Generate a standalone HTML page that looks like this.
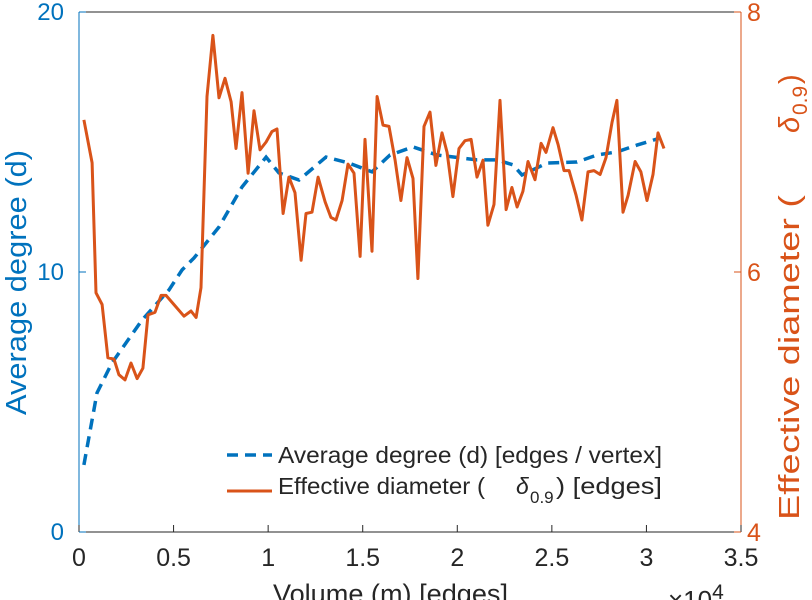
<!DOCTYPE html>
<html><head><meta charset="utf-8"><style>
html,body{margin:0;padding:0;background:#fff;}
svg{display:block;font-family:"Liberation Sans",sans-serif;}
</style></head><body>
<svg id="chart" width="812" height="600" viewBox="0 0 812 600"></svg>
<script>
const xTicks=[0,0.5,1,1.5,2,2.5,3,3.5];
const xTickLabels=["0","0.5","1","1.5","2","2.5","3","3.5"];
const leftTicks=[0,10,20];
const rightTicks=[4,6,8];
const degX=[0.026,0.095,0.174,0.333,0.476,0.545,0.608,0.740,0.862,0.989,1.057,1.163,1.306,1.428,1.549,1.644,1.766,1.893,2.104,2.210,2.295,2.342,2.474,2.633,2.739,2.844,2.950,3.072];
const degY=[2.58,5.35,6.5,8.15,9.31,10.08,10.54,11.73,13.27,14.42,13.81,13.54,14.42,14.19,13.85,14.5,14.81,14.5,14.31,14.31,14.12,13.73,14.19,14.23,14.5,14.62,14.88,15.15];
const diaX=[0.026,0.069,0.090,0.122,0.153,0.185,0.211,0.243,0.275,0.307,0.338,0.365,0.402,0.434,0.460,0.502,0.555,0.592,0.619,0.645,0.677,0.708,0.740,0.772,0.804,0.830,0.862,0.894,0.925,0.957,0.989,1.020,1.047,1.079,1.110,1.142,1.174,1.200,1.232,1.264,1.301,1.332,1.359,1.391,1.422,1.454,1.486,1.512,1.549,1.576,1.607,1.639,1.671,1.702,1.734,1.766,1.792,1.824,1.856,1.887,1.919,1.946,1.977,2.009,2.041,2.073,2.104,2.136,2.162,2.194,2.226,2.258,2.289,2.316,2.347,2.374,2.411,2.443,2.469,2.506,2.533,2.564,2.591,2.628,2.659,2.691,2.723,2.755,2.786,2.818,2.844,2.876,2.903,2.940,2.971,3.003,3.035,3.061,3.093];
const diaY=[7.17,6.84,5.84,5.75,5.34,5.33,5.21,5.17,5.30,5.18,5.26,5.67,5.69,5.82,5.82,5.75,5.66,5.70,5.65,5.88,7.35,7.82,7.34,7.49,7.31,6.95,7.38,6.76,7.24,6.94,7.00,7.08,7.10,6.45,6.73,6.61,6.09,6.45,6.46,6.73,6.54,6.42,6.40,6.55,6.83,6.76,6.12,7.02,6.16,7.35,7.13,7.12,6.86,6.55,6.88,6.72,5.95,7.12,7.23,6.82,7.07,6.92,6.58,6.95,7.01,7.02,6.73,6.86,6.36,6.52,7.32,6.48,6.65,6.50,6.62,6.85,6.71,6.99,6.92,7.11,6.98,6.78,6.78,6.59,6.40,6.77,6.78,6.75,6.88,7.15,7.32,6.46,6.59,6.85,6.77,6.55,6.75,7.07,6.95];

const L=79,R=741,T=12,B=532;
const xs=v=>L+v/3.5*(R-L);
const yl=v=>B-v/20*(B-T);
const yr=v=>B-(v-4)/4*(B-T);
const svg=document.getElementById('chart');
const NS='http://www.w3.org/2000/svg';
function mk(tag,attrs,parent){const e=document.createElementNS(NS,tag);for(const k in attrs)e.setAttribute(k,attrs[k]);(parent||svg).appendChild(e);return e;}

let e=mk('line',{x1:L,y1:T,x2:R,y2:T,stroke:'#262626','stroke-width':1});


e=mk('line',{x1:L,y1:B,x2:R,y2:B,stroke:'#262626','stroke-width':1});


e=mk('line',{x1:L,y1:T,x2:L,y2:B,stroke:'#0072BD','stroke-width':1});


e=mk('line',{x1:R,y1:T,x2:R,y2:B,stroke:'#D95319','stroke-width':1});



xTicks.forEach((t,i)=>{
  const x=xs(t);
  mk('line',{x1:x,y1:B,x2:x,y2:B-7,stroke:'#262626'});
  const tx=mk('text',{x:x,y:566,'text-anchor':'middle','font-size':25,fill:'#262626'});
  tx.textContent=xTickLabels[i];
  
  
});
leftTicks.forEach(t=>{
  const y=yl(t);
  mk('line',{x1:L,y1:y,x2:L+7,y2:y,stroke:'#0072BD'});
  const tx=mk('text',{x:L-15,y:y+8,'text-anchor':'end','font-size':24,fill:'#0072BD'});
  tx.textContent=String(t);
  
  
});
rightTicks.forEach(t=>{
  const y=yr(t);
  mk('line',{x1:R,y1:y,x2:R-7,y2:y,stroke:'#D95319'});
  const tx=mk('text',{x:R+6,y:y+9,'text-anchor':'start','font-size':25,fill:'#D95319'});
  tx.textContent=String(t);
  
  
});

let d=degX.map((v,i)=>(i?'L':'M')+xs(v).toFixed(1)+','+yl(degY[i]).toFixed(1)).join('');
e=mk('path',{d:d,fill:'none',stroke:'#0072BD','stroke-width':3.5,'stroke-dasharray':'11,7'});


d=diaX.map((v,i)=>(i?'L':'M')+xs(v).toFixed(1)+','+yr(diaY[i]).toFixed(1)).join('');
e=mk('path',{d:d,fill:'none',stroke:'#D95319','stroke-width':3,'stroke-linejoin':'round'});



e=mk('text',{x:273,y:603,'font-size':27,fill:'#262626',textLength:235,lengthAdjust:'spacingAndGlyphs'});
e.textContent='Volume (m) [edges]';


e=mk('text',{x:668,y:609,'font-size':26,fill:'#262626'});
e.innerHTML='×10<tspan dy="-10" font-size="21">4</tspan>';


e=mk('text',{x:0,y:0,'font-size':29,fill:'#0072BD',transform:'translate(26,415) rotate(-90)',textLength:265,lengthAdjust:'spacingAndGlyphs'});
e.textContent='Average degree (d)';


const rt=mk('g',{transform:'translate(799,0) rotate(-90)',fill:'#D95319','font-size':29});


e=mk('text',{x:-520,y:0,textLength:325,lengthAdjust:'spacingAndGlyphs'},rt);
e.textContent='Effective diameter (';
e=mk('text',{x:-133,y:0,'font-style':'italic'},rt);
e.textContent='δ';
e=mk('text',{x:-115,y:8,'font-size':21},rt);
e.textContent='0.9';
e=mk('text',{x:-84,y:0},rt);
e.textContent=')';

const lg=mk('g',{fill:'#262626','font-size':23});


e=mk('line',{x1:227,y1:455,x2:272,y2:455,stroke:'#0072BD','stroke-width':3.5,'stroke-dasharray':'11,7'},lg);


e=mk('text',{x:278,y:463,textLength:384,lengthAdjust:'spacingAndGlyphs'},lg);
e.textContent='Average degree (d) [edges / vertex]';


e=mk('line',{x1:227,y1:491,x2:272,y2:491,stroke:'#D95319','stroke-width':3},lg);


const l2=mk('g',{},lg);


e=mk('text',{x:278,y:494,textLength:207,lengthAdjust:'spacingAndGlyphs'},l2);
e.textContent='Effective diameter (';
e=mk('text',{x:516,y:494,'font-style':'italic'},l2);
e.textContent='δ';
e=mk('text',{x:530,y:503,'font-size':17},l2);
e.textContent='0.9';
e=mk('text',{x:556,y:494,textLength:106,lengthAdjust:'spacingAndGlyphs'},l2);
e.textContent=') [edges]';
</script>
</body></html>
